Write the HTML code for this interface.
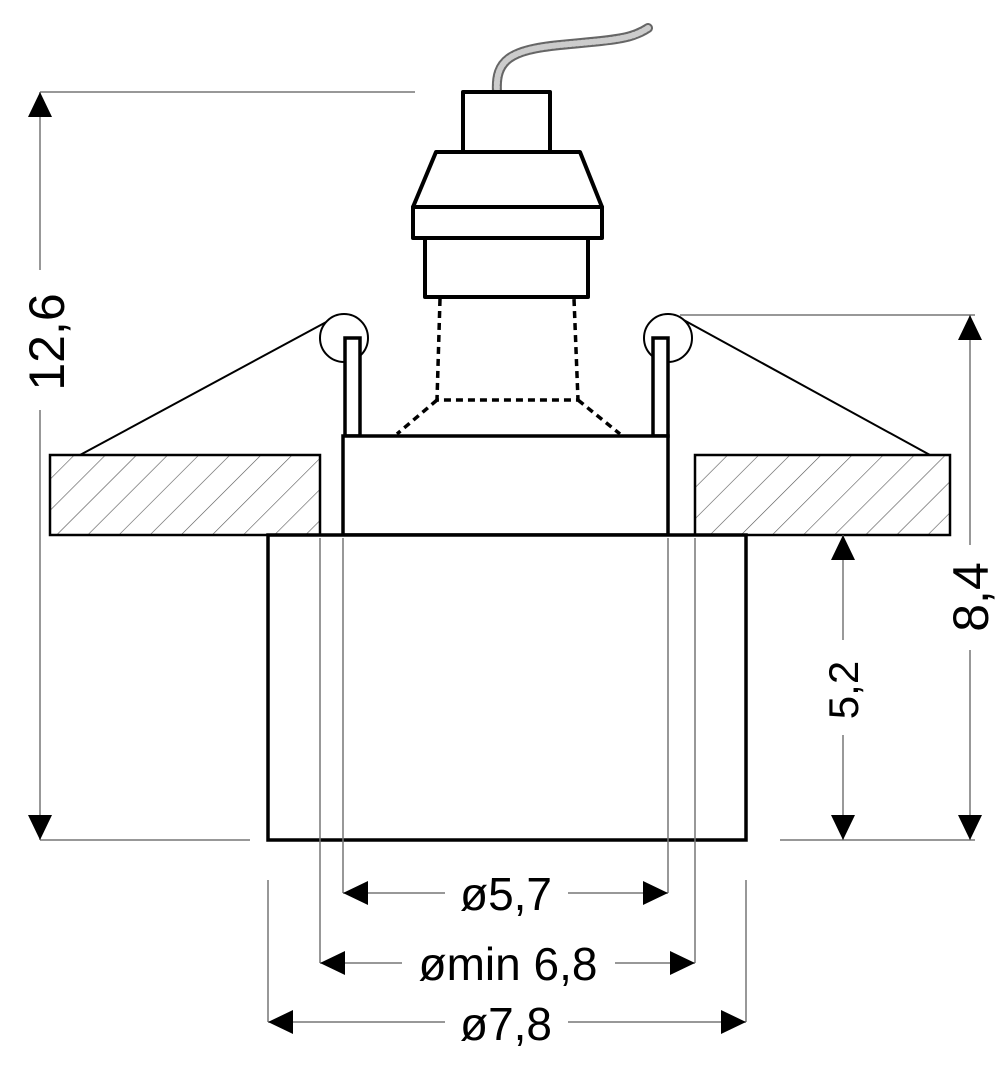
<!DOCTYPE html>
<html><head><style>body{margin:0;background:#fff}</style></head><body>
<svg width="1000" height="1071" viewBox="0 0 1000 1071" xmlns="http://www.w3.org/2000/svg" font-family="Liberation Sans, Arial, sans-serif">
<defs>
<pattern id="h" width="22" height="22" patternUnits="userSpaceOnUse" patternTransform="rotate(45)">
<line x1="0" y1="0" x2="0" y2="22" stroke="#555" stroke-width="1.2"/>
</pattern>
</defs>
<!-- cable -->
<path d="M497 92 C495 60 510 50 560 45 C610 40 630 40 648 28" fill="none" stroke="#666" stroke-width="10" stroke-linecap="round"/>
<path d="M497 92 C495 60 510 50 560 45 C610 40 630 40 648 28" fill="none" stroke="#ccc" stroke-width="6" stroke-linecap="round" stroke-dasharray="2 2"/>
<g fill="#fff" stroke="#000" stroke-width="4" stroke-linejoin="round">
<rect x="463" y="92" width="87" height="60"/>
<path d="M436 152 L580 152 L602 207 L413 207 Z"/>
<rect x="413" y="207" width="189" height="31"/>
<rect x="425" y="238" width="163" height="59"/>
</g>
<g fill="none" stroke="#000" stroke-width="3.5" stroke-dasharray="7 5">
<path d="M440 299 L437 400 L578 400 L574 299"/>
<path d="M437 400 L397 434"/>
<path d="M578 400 L620 434"/>
</g>
<rect x="50" y="455" width="270" height="80" fill="url(#h)" stroke="#000" stroke-width="2.5"/>
<rect x="695" y="455" width="255" height="80" fill="url(#h)" stroke="#000" stroke-width="2.5"/>
<line x1="330" y1="320" x2="80" y2="455" stroke="#000" stroke-width="2"/>
<line x1="680" y1="318" x2="930" y2="455" stroke="#000" stroke-width="2"/>
<circle cx="344" cy="338" r="24" fill="#fff" stroke="#000" stroke-width="2"/>
<circle cx="668" cy="338" r="24" fill="#fff" stroke="#000" stroke-width="2"/>
<g fill="#fff" stroke="#000" stroke-width="3.5">
<rect x="345" y="338" width="15" height="98"/>
<rect x="653" y="338" width="15" height="98"/>
<rect x="343" y="436" width="325" height="99"/>
<rect x="268" y="535" width="478" height="305"/>
</g>
<g stroke="#777" stroke-width="1.5" fill="none">
<line x1="40" y1="92" x2="415" y2="92"/>
<line x1="40" y1="840" x2="250" y2="840"/>
<line x1="40" y1="92" x2="40" y2="270"/>
<line x1="40" y1="410" x2="40" y2="840"/>
<line x1="680" y1="315" x2="975" y2="315"/>
<line x1="780" y1="840" x2="975" y2="840"/>
<line x1="970" y1="315" x2="970" y2="545"/>
<line x1="970" y1="650" x2="970" y2="840"/>
<line x1="843" y1="535" x2="843" y2="640"/>
<line x1="843" y1="735" x2="843" y2="840"/>
<line x1="343" y1="538" x2="343" y2="893"/>
<line x1="668" y1="538" x2="668" y2="893"/>
<line x1="320" y1="538" x2="320" y2="963"/>
<line x1="695" y1="538" x2="695" y2="963"/>
<line x1="268" y1="880" x2="268" y2="1022"/>
<line x1="746" y1="880" x2="746" y2="1022"/>
<line x1="343" y1="893" x2="445" y2="893"/><line x1="568" y1="893" x2="668" y2="893"/>
<line x1="320" y1="963" x2="402" y2="963"/><line x1="615" y1="963" x2="695" y2="963"/>
<line x1="268" y1="1022" x2="445" y2="1022"/><line x1="568" y1="1022" x2="746" y2="1022"/>
</g>
<g fill="#000">
<path d="M40 92 l-12 25 h24 Z"/><path d="M40 840 l-12 -25 h24 Z"/>
<path d="M970 315 l-12 25 h24 Z"/><path d="M970 840 l-12 -25 h24 Z"/>
<path d="M843 535 l-12 25 h24 Z"/><path d="M843 840 l-12 -25 h24 Z"/>
<path d="M343 893 l25 -12 v24 Z"/><path d="M668 893 l-25 -12 v24 Z"/>
<path d="M320 963 l25 -12 v24 Z"/><path d="M695 963 l-25 -12 v24 Z"/>
<path d="M268 1022 l25 -12 v24 Z"/><path d="M746 1022 l-25 -12 v24 Z"/>
</g>
<g font-size="46" fill="#000" text-anchor="middle">
<text x="506" y="910">ø5,7</text>
<text x="508" y="980">ømin 6,8</text>
<text x="506" y="1040">ø7,8</text>
<text font-size="50" transform="translate(64 342) rotate(-90)">12,6</text>
<text font-size="50" transform="translate(988 597) rotate(-90)">8,4</text>
<text font-size="42" transform="translate(858 690) rotate(-90)">5,2</text>
</g>
</svg>
</body></html>
